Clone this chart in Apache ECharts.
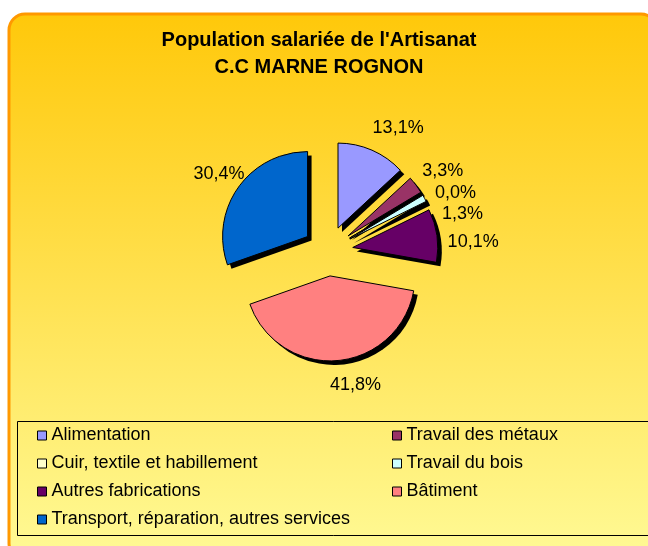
<!DOCTYPE html>
<html lang="fr">
<head>
<meta charset="utf-8">
</head>
<body style="margin: 0; background: #fff">
<div id="container" style="width: 648px; height: 546px"></div>
<script src="https://cdn.jsdelivr.net/npm/echarts@6/dist/echarts.min.js"></script>
<script>
// données (parts en %)
const categories = [
    'Alimentation',
    'Travail des métaux',
    'Cuir, textile et habillement',
    'Travail du bois',
    'Autres fabrications',
    'Bâtiment',
    'Transport, réparation, autres services'
];
const shares = [13.1, 3.3, 0.0, 1.3, 10.1, 41.8, 30.4];

const palette = ['#9999FF', '#993366', '#FFFFCC', '#CCFFFF', '#660066', '#FF8080', '#0066CC'];
const font = '"Liberation Sans", Arial, sans-serif';

var chart = echarts.init(document.getElementById('container'), null, { renderer: 'canvas' });

function pieData() {
    return categories.map(function (name, i) {
        return { name: name, value: shares[i], selected: true };
    });
}

var legendBase = {
    orient: 'vertical',
    top: 426,
    padding: 0,
    itemWidth: 9,
    itemHeight: 9,
    itemGap: 9,
    icon: 'rect',
    itemStyle: { borderColor: '#000', borderWidth: 1 },
    textStyle: { fontFamily: font, fontSize: 18, lineHeight: 19, color: '#000' }
};

var option = {
    animation: false,
    color: palette,
    graphic: [
        {
            type: 'rect',
            z: -10,
            shape: { x: 9, y: 14, width: 648, height: 545, r: 16 },
            style: {
                fill: new echarts.graphic.LinearGradient(0, 0, 0, 1, [
                    { offset: 0, color: '#FFC80A' },
                    { offset: 1, color: '#FFFA96' }
                ]),
                stroke: '#FF9900',
                lineWidth: 3
            }
        },
        {
            type: 'rect',
            z: -9,
            shape: { x: 17.5, y: 421.5, width: 640, height: 114 },
            style: { fill: 'transparent', stroke: '#000', lineWidth: 1 }
        }
    ],
    title: {
        text: "Population salariée de l'Artisanat\nC.C MARNE ROGNON",
        left: 319,
        top: 27,
        padding: 0,
        textAlign: 'center',
        textStyle: {
            fontFamily: font,
            fontSize: 20,
            fontWeight: 'bold',
            lineHeight: 27,
            color: '#000'
        }
    },
    legend: [
        Object.assign({}, legendBase, {
            left: 37,
            data: [categories[0], categories[2], categories[4], categories[6]]
        }),
        Object.assign({}, legendBase, {
            left: 392,
            data: [categories[1], categories[3], categories[5]]
        })
    ],
    series: [
        {
            name: 'parts',
            type: 'pie',
            z: 3,
            center: [328, 251],
            radius: 85,
            startAngle: 90,
            clockwise: true,
            selectedMode: 'multiple',
            selectedOffset: 25,
            avoidLabelOverlap: true,
            minShowLabelAngle: 0,
            data: pieData(),
            itemStyle: { borderColor: '#000', borderWidth: 1 },
            emphasis: { disabled: true },
            select: { itemStyle: { borderColor: '#000', borderWidth: 1 } },
            label: {
                show: true,
                position: 'outside',
                fontFamily: font,
                fontSize: 18,
                color: '#000',
                formatter: function (p) {
                    return p.value.toFixed(1).replace('.', ',') + '%';
                }
            },
            labelLine: { show: false, length: 24, length2: -14 },
            // les étiquettes de gauche sont rapprochées du camembert
            labelLayout: function (p) {
                return p.align === 'right' ? { dx: 17 } : {};
            }
        },
        {
            // ombre portée
            name: 'ombre',
            type: 'pie',
            z: 2,
            silent: true,
            legendHoverLink: false,
            center: [332, 255],
            radius: 85,
            startAngle: 90,
            clockwise: true,
            selectedMode: 'multiple',
            selectedOffset: 25,
            data: pieData(),
            itemStyle: { color: '#000', borderWidth: 0 },
            select: { itemStyle: { color: '#000', borderWidth: 0 } },
            emphasis: { disabled: true },
            label: { show: false },
            labelLine: { show: false }
        }
    ]
};

chart.setOption(option);
window.addEventListener('resize', chart.resize);
</script>
</body>
</html>
